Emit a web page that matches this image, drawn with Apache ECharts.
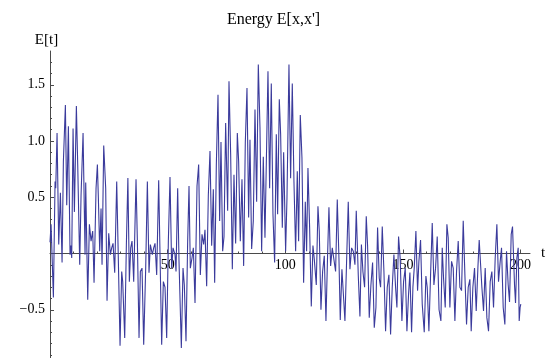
<!DOCTYPE html>
<html>
<head>
<meta charset="utf-8">
<script src="https://cdn.jsdelivr.net/npm/echarts@6/dist/echarts.min.js"></script>
<style>html,body{margin:0;padding:0;background:#fff}#c{width:547px;height:358px}</style>
</head>
<body>
<div id="c"></div>
<script>
const tValues = [
0.0,0.45,1.44,2.15,2.44,3.0,3.71,4.42,4.70,5.13,5.69,6.54,7.11,7.82,8.52,8.81,9.23,9.80,10.37,11.21,
11.78,12.63,13.2,14.05,14.9,15.18,16.03,16.74,17.45,18.15,18.72,19.57,20.14,20.56,21.13,21.69,22.12,22.83,23.67,24.24,
24.95,25.66,26.22,26.79,27.5,28.35,29.06,29.77,30.47,30.9,31.75,32.46,33.1,33.73,34.30,34.86,35.57,36.56,37.13,37.84,
38.40,39.11,39.82,40.67,41.38,42.08,42.65,43.5,44.07,44.63,45.34,46.19,46.76,47.46,48.17,48.88,49.59,50.3,51.0,51.71,
52.28,53.13,53.56,54.26,54.83,55.82,56.53,57.09,57.8,58.51,59.08,59.64,60.35,60.92,61.63,62.48,63.18,63.89,64.6,65.31,
65.87,66.58,67.29,68.0,68.71,69.41,69.98,70.69,71.40,72.10,72.67,73.38,73.95,74.65,75.50,76.07,76.78,77.49,78.19,78.9,
79.61,80.17,80.88,81.59,82.3,83.0,83.72,84.42,84.99,85.7,86.4,87.12,87.82,88.53,89.24,89.95,90.65,91.36,92.64,93.34,
94.05,94.76,95.47,96.18,96.74,97.45,98.02,98.73,99.3,100.14,100.71,101.56,102.26,102.97,103.68,104.39,105.1,105.66,106.37,107.08,
107.79,108.5,109.06,109.63,110.34,111.05,111.75,112.32,113.17,113.88,114.44,115.15,115.86,116.57,117.28,117.98,118.55,119.26,119.97,120.67,
121.38,122.09,122.8,123.36,124.07,124.78,125.35,126.05,126.76,127.47,128.18,128.89,129.6,130.16,131.01,131.72,132.35,132.99,133.7,134.41,
134.97,135.68,136.39,137.1,137.81,138.52,139.22,139.93,140.5,141.21,141.92,142.62,143.33,144.04,144.75,145.45,146.16,146.87,147.44,148.14,
148.85,149.56,150.27,150.98,151.69,152.39,152.96,153.67,154.24,154.8,155.51,156.22,156.78,157.49,158.2,159.05,159.76,160.32,161.03,161.74,
162.45,163.16,163.86,164.57,165.35,166.13,166.7,167.26,167.97,168.68,169.24,169.95,170.66,171.37,172.08,172.78,173.49,174.2,174.91,175.62,
176.33,177.03,177.74,178.45,179.01,179.72,180.43,181.14,181.85,182.41,182.98,183.55,184.25,184.96,185.67,186.38,187.08,187.79,188.5,189.21,
189.92,190.62,191.33,191.9,192.61,193.32,194.02,194.73,195.3,196.01,196.57,197.42,197.85,198.42,198.98,199.41,199.8,200.1
];
const eValues = [
0.10,0.26,-0.39,0.64,0.58,1.07,0.08,0.54,0.55,-0.08,0.82,1.32,0.43,1.13,-0.01,0.07,-0.04,1.11,0.37,1.31,
0.79,-0.10,0.52,1.07,-0.01,0.63,-0.41,0.26,0.11,0.20,-0.26,0.58,0.79,0.49,0.02,0.40,-0.10,0.96,0.58,-0.42,
0.18,-0.01,0.05,0.09,-0.17,0.64,-0.07,-0.82,-0.16,-0.25,-0.75,0.08,0.67,-0.25,0.05,0.11,-0.25,0.66,0.11,-0.75,
-0.16,-0.13,-0.81,-0.13,0.64,-0.17,0.08,-0.01,0.05,0.09,-0.19,0.65,-0.01,-0.81,-0.25,-0.30,-0.75,0.11,0.68,-0.13,
0.05,-0.01,-0.16,0.58,-0.07,-0.84,-0.13,-0.28,-0.78,0.11,0.60,-0.13,-0.04,0.05,-0.44,0.60,0.79,-0.19,0.17,0.08,
0.21,-0.29,0.52,0.91,0.07,0.57,-0.26,0.79,1.41,0.29,0.99,0.02,0.15,1.16,0.38,1.53,0.88,-0.14,0.70,0.09,
1.07,0.82,0.11,0.66,-0.11,0.98,1.47,0.32,1.01,0.04,0.29,1.28,0.46,1.68,1.12,0.02,0.86,0.14,1.62,0.58,
1.51,0.35,-0.08,1.06,0.35,1.37,1.06,0.23,0.90,0.02,0.49,1.68,0.67,1.51,0.64,0.02,0.73,0.11,1.23,0.85,
-0.26,0.46,0.02,0.76,0.23,-0.47,0.07,-0.05,-0.28,0.42,0.20,-0.50,-0.16,-0.02,-0.60,-0.01,0.41,-0.11,0.05,0.05,
-0.16,0.48,-0.04,-0.59,-0.14,-0.13,-0.60,-0.07,0.46,-0.14,0.05,0.02,-0.10,0.38,-0.19,-0.56,0.08,-0.16,-0.30,0.33,
0.07,-0.57,-0.28,-0.08,-0.66,-0.48,0.23,-0.22,-0.30,0.24,-0.16,-0.69,-0.30,-0.19,-0.72,-0.30,-0.01,-0.30,-0.48,0.15,
-0.05,-0.60,-0.25,-0.13,-0.69,-0.36,-0.17,-0.70,-0.30,-0.13,0.20,-0.33,-0.07,0.12,-0.45,-0.70,-0.20,-0.30,-0.69,-0.19,
0.27,-0.28,-0.13,0.15,-0.50,-0.60,0.05,-0.22,-0.48,0.26,0.14,-0.48,-0.07,-0.13,-0.60,-0.16,0.11,-0.30,-0.33,0.29,
-0.19,-0.63,-0.30,-0.23,-0.69,-0.30,-0.13,-0.51,-0.13,0.12,0.11,-0.30,-0.51,-0.13,-0.57,-0.69,-0.25,-0.16,-0.48,-0.04,
0.26,-0.25,-0.07,0.05,-0.48,-0.63,0.02,-0.28,-0.43,0.17,0.24,-0.28,-0.44,-0.04,0.05,-0.60,-0.48,-0.45
];
const xTickLabels = [50, 100, 150, 200];
const yTickLabels = [-0.5, 0.5, 1.0, 1.5];
const xLabelName = 't';
const yLabelName = 'E[t]';
const titleText = "Energy E[x,x']";

const xMinor = [];
for (let k = 1; k <= 20; k++) { const v = k * 10; if (xTickLabels.indexOf(v) < 0) xMinor.push(v); }
const yMinor = [];
for (let k = -9; k <= 17; k++) { if (k % 5 !== 0) yMinor.push(Math.round(k) / 10); }

const data = tValues.map((t, i) => [t, eValues[i]]);

// layout
const W = 547, H = 358;
const gTop = 51, gBottom = -8, gLeft = 50, gRight = 17;
const yMin = -1, yMax = 1.8;
const gridH = H - gTop - gBottom;
const zeroOffset = -gridH * (0 - yMin) / (yMax - yMin); // move x axis from grid bottom up to y = 0

const serif = 'Liberation Serif, Times New Roman, serif';
const axisCol = '#4a4a4a';
const chart = echarts.init(document.getElementById('c'), null, {renderer: 'canvas'});
chart.setOption({
  animation: false,
  backgroundColor: '#ffffff',
  title: {
    text: titleText, left: 'center', top: 7,
    textStyle: {fontFamily: serif, fontSize: 16, fontWeight: 'normal', color: '#000'}
  },
  grid: {left: gLeft, right: gRight, top: gTop, bottom: gBottom, containLabel: false, outerBoundsMode: 'none'},
  xAxis: [{
    type: 'value', min: 0, max: 204, position: 'bottom', offset: zeroOffset,
    name: xLabelName, nameLocation: 'end', nameGap: 11,
    nameTextStyle: {fontFamily: serif, fontSize: 15, color: '#000'},
    axisLine: {onZero: false, lineStyle: {color: axisCol, width: 1}},
    axisTick: {inside: true, length: 4, customValues: xTickLabels, lineStyle: {color: axisCol}},
    axisLabel: {customValues: xTickLabels, fontFamily: serif, fontSize: 14, color: '#000', margin: 5},
    splitLine: {show: false}
  }, {
    type: 'value', min: 0, max: 204, position: 'bottom', offset: zeroOffset,
    axisLine: {show: false, onZero: false},
    axisTick: {inside: true, length: 2, customValues: xMinor, lineStyle: {color: axisCol}},
    axisLabel: {show: false}, splitLine: {show: false}
  }],
  yAxis: [{
    type: 'value', min: yMin, max: yMax, position: 'left',
    name: yLabelName, nameLocation: 'end', nameGap: 3,
    nameTextStyle: {fontFamily: serif, fontSize: 15, color: '#000', padding: [0, 7, 0, 0]},
    axisLine: {onZero: false, lineStyle: {color: axisCol, width: 1}},
    axisTick: {inside: true, length: 4, customValues: yTickLabels, lineStyle: {color: axisCol}},
    axisLabel: {
      customValues: yTickLabels, fontFamily: serif, fontSize: 14, color: '#000', margin: 5,
      formatter: v => (v < 0 ? '\u2212' : '') + Math.abs(v).toFixed(1)
    },
    splitLine: {show: false}
  }, {
    type: 'value', min: yMin, max: yMax, position: 'left',
    axisLine: {show: false, onZero: false},
    axisTick: {inside: true, length: 2, customValues: yMinor, lineStyle: {color: axisCol}},
    axisLabel: {show: false}, splitLine: {show: false}
  }],
  series: [{
    type: 'line', data: data, xAxisIndex: 0, yAxisIndex: 0,
    symbol: 'none', showSymbol: false, clip: true,
    lineStyle: {color: '#3b3b9c', width: 1.1}
  }]
});
</script>
</body>
</html>
